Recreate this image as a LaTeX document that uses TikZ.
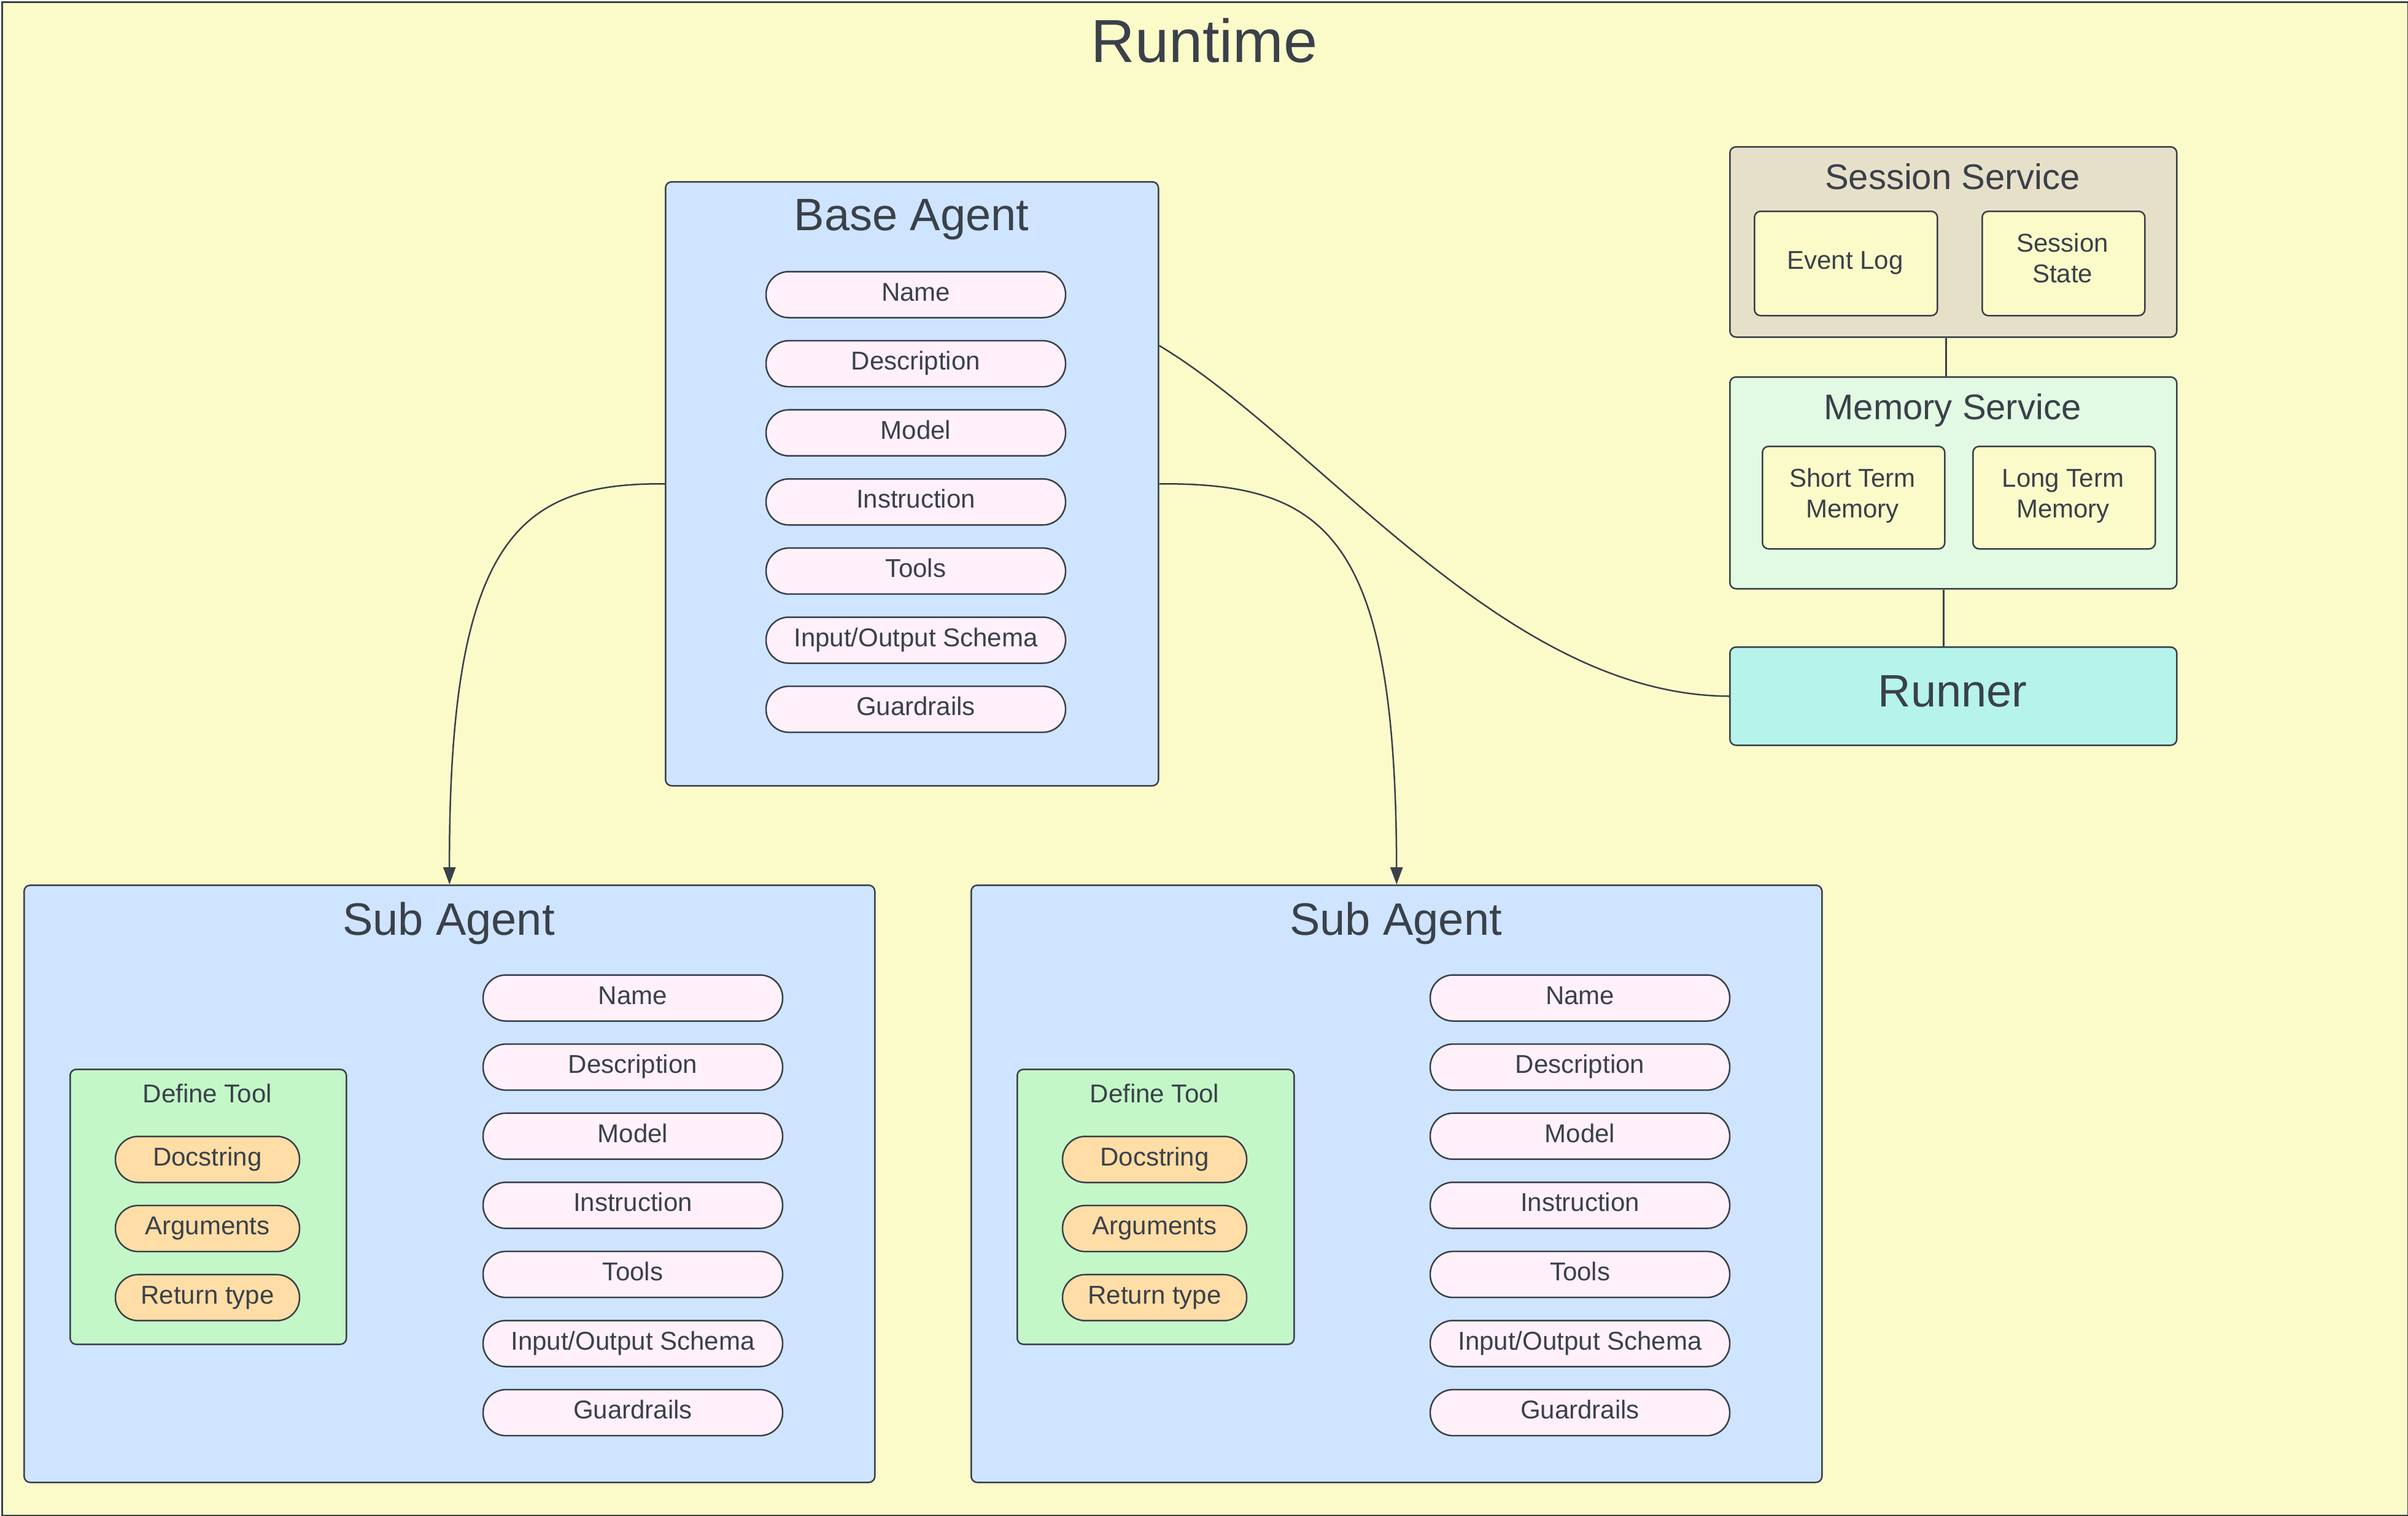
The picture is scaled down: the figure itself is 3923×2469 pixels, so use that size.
\documentclass[tikz,border=0pt]{standalone}
\usepackage{fontspec}
\setmainfont{Liberation Sans}
\usetikzlibrary{arrows.meta}
\definecolor{bgY}{HTML}{FBFBCA}
\definecolor{ink}{HTML}{3A414A}
\definecolor{agentB}{HTML}{CFE4FF}
\definecolor{pillP}{HTML}{FFF0FA}
\definecolor{sessT}{HTML}{E7E0C9}
\definecolor{memG}{HTML}{E2FAE3}
\definecolor{runC}{HTML}{B5F3EB}
\definecolor{toolG}{HTML}{C3F7C8}
\definecolor{argO}{HTML}{FFDDA6}
\newcommand\fSm{\fontsize{42}{50}\selectfont}
\newcommand\fMd{\fontsize{58}{66}\selectfont}
\newcommand\fLg{\fontsize{74}{84}\selectfont}
\newcommand\fXl{\fontsize{99}{110}\selectfont}
\tikzset{
  boxbase/.style={draw=ink, line width=2.5pt, rounded corners=10pt, anchor=north west, inner sep=0pt},
  agentbox/.style={boxbase, fill=agentB},
  pillbox/.style={draw=ink, line width=2.5pt, fill=pillP, rounded corners=37pt, minimum width=488pt, minimum height=75pt, inner sep=0pt, font=\fSm, text=ink, text height=31pt, text depth=11pt},
  argpill/.style={pillbox, fill=argO, minimum width=300pt},
  titletext/.style={text=ink, inner sep=0pt},
  innerbox/.style={boxbase, fill=bgY},
  innertext/.style={titletext, font=\fSm, align=center},
  conn/.style={draw=ink, line width=2.5pt},
  arr/.style={conn, -{Triangle[length=28pt,width=20pt]}}
}
\begin{document}
\begin{tikzpicture}[x=1pt,y=-1pt]
\useasboundingbox (0,0) rectangle (3923,2469);
\node[draw=ink, fill=bgY, line width=3pt, minimum width=3920pt, minimum height=2466pt, anchor=north west, inner sep=0pt] (rt) at (1.5,1.5) {};
\node[titletext, font=\fXl] (rtt) at (1962,66) {Runtime};

% Base agent
\node[agentbox, minimum width=803pt, minimum height=984pt] (ba) at (1083,295) {};
\node[titletext, font=\fLg] (bat) at (1485,358) {Base Agent};
\foreach \t [count=\i] in {Name,Description,Model,Instruction,Tools,Input/Output Schema,Guardrails}
  \node[pillbox] (bp\i) at (1492,{480+112.6*(\i-1)}) {\t};

% Session service
\node[boxbase, fill=sessT, minimum width=728pt, minimum height=310pt] (ss) at (2817,238) {};
\node[titletext, font=\fMd] (sst) at (3181,288) {Session Service};
\node[innerbox, minimum width=298pt, minimum height=170pt] (el) at (2857,343) {};
\node[innertext] (elt) at (3006,428) {Event Log};
\node[innerbox, minimum width=265pt, minimum height=170pt] (sst2) at (3228,343) {};
\node[innertext] (sst2t) at (3360,420) {Session\\State};

% Memory service
\node[boxbase, fill=memG, minimum width=728pt, minimum height=345pt] (ms) at (2817,613) {};
\node[titletext, font=\fMd] (mst) at (3181,668) {Memory Service};
\node[innerbox, minimum width=297pt, minimum height=167pt] (stm) at (2870,726) {};
\node[innertext] (stmt) at (3018,808) {Short Term\\Memory};
\node[innerbox, minimum width=297pt, minimum height=167pt] (ltm) at (3213,726) {};
\node[innertext] (ltmt) at (3361,808) {Long Term\\Memory};

% Runner
\node[boxbase, fill=runC, minimum width=728pt, minimum height=160pt] (rn) at (2817,1053) {};
\node[titletext, font=\fLg] (rnt) at (3181,1126) {Runner};

% Sub agents
\node[agentbox, minimum width=1386pt, minimum height=973pt] (sa1) at (38,1441) {};
\node[agentbox, minimum width=1386pt, minimum height=973pt] (sa2) at (1581,1441) {};
\node[titletext, font=\fLg] (sa1t) at (731,1504) {Sub Agent};
\node[titletext, font=\fLg] (sa2t) at (2274,1504) {Sub Agent};
\foreach \t [count=\i] in {Name,Description,Model,Instruction,Tools,Input/Output Schema,Guardrails}{
  \node[pillbox] (sp\i) at (1031,{1626+112.6*(\i-1)}) {\t};
  \node[pillbox] (sq\i) at (2574,{1626+112.6*(\i-1)}) {\t};
}

% Define tool boxes
\node[boxbase, fill=toolG, minimum width=450pt, minimum height=448pt] (dt1) at (113,1741) {};
\node[boxbase, fill=toolG, minimum width=451pt, minimum height=448pt] (dt2) at (1656,1741) {};
\node[titletext, font=\fSm] (dt1t) at (338,1781) {Define Tool};
\node[titletext, font=\fSm] (dt2t) at (1881,1781) {Define Tool};
\foreach \t [count=\i] in {Docstring,Arguments,Return type}{
  \node[argpill] (da\i) at (338,{1889+112.6*(\i-1)}) {\t};
  \node[argpill] (db\i) at (1881,{1889+112.6*(\i-1)}) {\t};
}

% Connectors
\draw[conn] ([xshift=-12pt]ss.south) -- ([xshift=-12pt]ms.north);
\draw[conn] ([xshift=-16pt]ms.south) -- ([xshift=-16pt]rn.north);
\draw[conn] ([yshift=-268pt]ba.north east) .. controls (2150,720) and (2450,1133) .. (rn.west);
\draw[arr] (ba.west) .. controls (850,787) and (731,870) .. (sa1.north);
\draw[arr] (ba.east) .. controls (2160,787) and (2274,870) .. (sa2.north);
\end{tikzpicture}
\end{document}
